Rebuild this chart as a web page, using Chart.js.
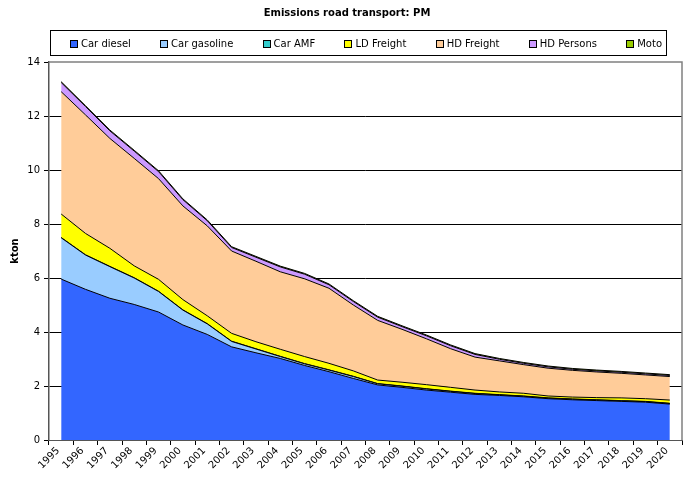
<!DOCTYPE html>
<html>
<head>
<meta charset="utf-8">
<script src="https://cdn.jsdelivr.net/npm/chart.js@4/dist/chart.umd.min.js"></script>
<style>
  html, body { margin: 0; padding: 0; background: #fff; }
  #wrap { width: 686px; height: 480px; }
</style>
</head>
<body>
<div id="wrap"><canvas id="chart" width="686" height="480"></canvas></div>
<script>
// PM emissions from road transport, kton per year, stacked by vehicle group
const years = ['1995','1996','1997','1998','1999','2000','2001','2002','2003','2004','2005','2006','2007',
               '2008','2009','2010','2011','2012','2013','2014','2015','2016','2017','2018','2019','2020'];

const carDiesel   = [5.96,5.58,5.25,5.02,4.74,4.26,3.91,3.45,3.23,3.02,2.76,2.53,2.28,2.04,1.95,1.85,1.77,1.69,1.65,1.60,1.53,1.49,1.46,1.43,1.40,1.33];
const carGasoline = [1.53,1.27,1.17,0.98,0.76,0.55,0.39,0.20,0.14,0.07,0.06,0.06,0.07,0.04,0.04,0.04,0.03,0.03,0.02,0.02,0.02,0.02,0.02,0.02,0.02,0.02];
const carAMF      = [0.01,0.01,0.01,0.01,0.01,0.01,0.01,0.01,0.01,0.01,0.01,0.01,0.01,0.01,0.01,0.01,0.01,0.01,0.01,0.01,0.01,0.01,0.01,0.01,0.01,0.01];
const ldFreight   = [0.87,0.79,0.67,0.44,0.44,0.38,0.29,0.29,0.26,0.26,0.26,0.24,0.20,0.13,0.14,0.15,0.14,0.12,0.10,0.10,0.07,0.07,0.08,0.10,0.10,0.12];
const hdFreight   = [4.53,4.39,4.07,3.98,3.73,3.47,3.33,3.05,2.98,2.87,2.88,2.78,2.44,2.21,1.96,1.70,1.43,1.22,1.15,1.06,1.03,0.99,0.95,0.91,0.88,0.87];
const hdPersons   = [0.34,0.31,0.28,0.27,0.26,0.23,0.19,0.13,0.15,0.18,0.17,0.13,0.13,0.12,0.10,0.11,0.11,0.10,0.06,0.05,0.05,0.04,0.04,0.04,0.04,0.04];
const moto        = [0.03,0.03,0.03,0.03,0.03,0.03,0.03,0.03,0.03,0.03,0.03,0.03,0.03,0.03,0.03,0.03,0.03,0.03,0.03,0.03,0.03,0.03,0.03,0.03,0.03,0.03];

const yTicks = [0, 2, 4, 6, 8, 10, 12, 14];

const FONT = "'DejaVu Sans', Verdana, sans-serif";

const series = [
  { label: 'Car diesel',   data: carDiesel,   color: '#3366FF' },
  { label: 'Car gasoline', data: carGasoline, color: '#99CCFF' },
  { label: 'Car AMF',      data: carAMF,      color: '#33CCCC' },
  { label: 'LD Freight',   data: ldFreight,   color: '#FFFF00' },
  { label: 'HD Freight',   data: hdFreight,   color: '#FFCC99' },
  { label: 'HD Persons',   data: hdPersons,   color: '#CC99FF' },
  { label: 'Moto',         data: moto,        color: '#99CC00' }
];

const datasets = series.map((s, i) => ({
  label: s.label,
  data: s.data,
  backgroundColor: s.color,
  borderColor: '#000000',
  borderWidth: 1,
  pointRadius: 0,
  pointHoverRadius: 0,
  tension: 0,
  fill: i === 0 ? 'origin' : '-1'
}));

// Title, boxed legend and plot frame
const frame = {
  id: 'frame',
  afterDraw(chart) {
    const ctx = chart.ctx;
    const area = chart.chartArea;
    ctx.save();

    // plot-area frame (top and right)
    ctx.strokeStyle = '#808080';
    ctx.lineWidth = 1.5;
    ctx.beginPath();
    ctx.moveTo(area.left, area.top);
    ctx.lineTo(area.right, area.top);
    ctx.lineTo(area.right, area.bottom);
    ctx.stroke();

    // title
    ctx.fillStyle = '#000';
    ctx.font = "bold 10px " + FONT;
    ctx.textAlign = 'center';
    ctx.textBaseline = 'middle';
    ctx.fillText('Emissions road transport: PM', 347, 13);

    // legend box
    const bx = 50.5, by = 30.5, bw = 616, bh = 25;
    ctx.strokeStyle = '#000';
    ctx.lineWidth = 1;
    ctx.strokeRect(bx, by, bw, bh);

    ctx.font = "10px " + FONT;
    ctx.textAlign = 'left';
    const sq = 7, gapText = 4;
    const widths = chart.data.datasets.map(d => sq + gapText + ctx.measureText(d.label).width);
    const startX = 70, endX = 662;
    const total = widths.reduce((a, b) => a + b, 0);
    const gap = (endX - startX - total) / (widths.length - 1);
    let x = startX;
    const cy = by + bh / 2;
    chart.data.datasets.forEach((d, i) => {
      ctx.fillStyle = d.backgroundColor;
      ctx.fillRect(Math.round(x) + 0.5, Math.round(cy - sq / 2) + 0.5, sq, sq);
      ctx.strokeStyle = '#000';
      ctx.strokeRect(Math.round(x) + 0.5, Math.round(cy - sq / 2) + 0.5, sq, sq);
      ctx.fillStyle = '#000';
      ctx.fillText(d.label, x + sq + gapText, cy + 1);
      x += widths[i] + gap;
    });
    ctx.restore();
  }
};

new Chart(document.getElementById('chart'), {
  type: 'line',
  data: { labels: years, datasets },
  options: {
    responsive: false,
    animation: false,
    layout: { padding: { top: 62, right: 4, left: 0, bottom: 0 } },
    plugins: {
      legend: { display: false },
      title: { display: false },
      tooltip: { enabled: false }
    },
    scales: {
      x: {
        type: 'category',
        offset: true,
        grid: {
          display: true,
          drawOnChartArea: false,
          offset: true,
          tickLength: 5,
          color: '#000'
        },
        border: { display: true, color: '#555', width: 1 },
        ticks: {
          autoSkip: false,
          maxRotation: 45,
          minRotation: 45,
          padding: 0,
          labelOffset: -3,
          color: '#000',
          font: { family: FONT, size: 10 }
        },
        afterFit(scale) { scale.height = 40; }
      },
      y: {
        stacked: true,
        min: 0,
        max: 14,
        afterBuildTicks(scale) { scale.ticks = yTicks.map(v => ({ value: v })); },
        grid: {
          color: ctx => (ctx.tick && ctx.tick.value === 14 ? 'rgba(0,0,0,0)' : '#000'),
          tickColor: '#000',
          tickLength: 5,
          lineWidth: 1
        },
        border: { display: true, color: '#555', width: 1.5 },
        ticks: {
          padding: 4,
          color: '#000',
          font: { family: FONT, size: 10 }
        },
        title: {
          display: true,
          text: 'kton',
          color: '#000',
          font: { family: FONT, size: 10, weight: 'bold' },
          padding: { top: 9, bottom: 0 }
        },
        afterFit(scale) { scale.width = 49; }
      }
    }
  },
  plugins: [frame]
});
</script>
</body>
</html>
